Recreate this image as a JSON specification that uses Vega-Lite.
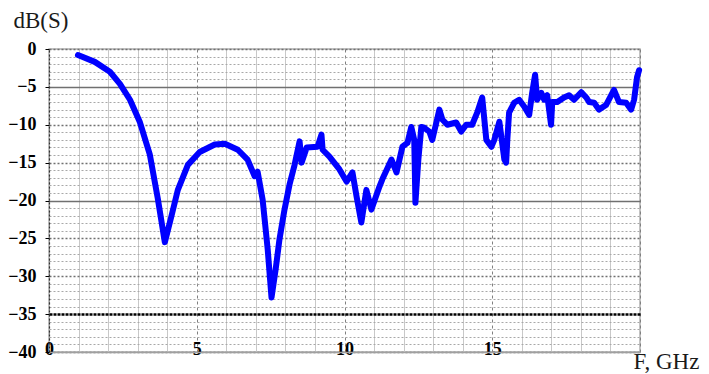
{
  "$schema": "https://vega.github.io/schema/vega-lite/v6.json",
  "width": 591,
  "height": 303,
  "autosize": "none",
  "padding": {"left": 49, "top": 49, "right": 69, "bottom": 22},
  "background": "white",
  "config": {
    "view": {"stroke": "#b0b0b0", "strokeWidth": 1.5}
  },
  "data": {
    "values": [
      {"f": 0.98, "db": -0.8}, {"f": 1.55, "db": -1.7}, {"f": 2.06, "db": -3.0},
      {"f": 2.40, "db": -4.6}, {"f": 2.74, "db": -6.7}, {"f": 3.07, "db": -9.6},
      {"f": 3.41, "db": -13.9}, {"f": 3.68, "db": -19.7}, {"f": 3.92, "db": -25.5},
      {"f": 4.16, "db": -21.8}, {"f": 4.36, "db": -18.6}, {"f": 4.70, "db": -15.3},
      {"f": 5.10, "db": -13.6}, {"f": 5.61, "db": -12.6}, {"f": 5.95, "db": -12.5},
      {"f": 6.39, "db": -13.3}, {"f": 6.72, "db": -14.6}, {"f": 6.96, "db": -16.8},
      {"f": 7.06, "db": -16.2}, {"f": 7.23, "db": -19.9}, {"f": 7.40, "db": -26.4},
      {"f": 7.53, "db": -32.8}, {"f": 7.67, "db": -29.1}, {"f": 7.80, "db": -25.1},
      {"f": 7.97, "db": -21.2}, {"f": 8.14, "db": -17.9}, {"f": 8.31, "db": -15.3},
      {"f": 8.48, "db": -12.2}, {"f": 8.55, "db": -15.0}, {"f": 8.72, "db": -13.0},
      {"f": 9.09, "db": -12.9}, {"f": 9.22, "db": -11.3}, {"f": 9.26, "db": -13.3},
      {"f": 9.49, "db": -14.2}, {"f": 9.83, "db": -15.9}, {"f": 10.07, "db": -17.5},
      {"f": 10.27, "db": -16.3}, {"f": 10.41, "db": -19.5}, {"f": 10.57, "db": -22.9},
      {"f": 10.74, "db": -18.6}, {"f": 10.91, "db": -21.2}, {"f": 11.18, "db": -18.2},
      {"f": 11.28, "db": -17.2}, {"f": 11.59, "db": -14.6}, {"f": 11.76, "db": -16.3},
      {"f": 11.96, "db": -12.9}, {"f": 12.13, "db": -12.4}, {"f": 12.26, "db": -10.3},
      {"f": 12.36, "db": -12.0}, {"f": 12.40, "db": -20.3}, {"f": 12.50, "db": -14.6},
      {"f": 12.60, "db": -10.3}, {"f": 12.70, "db": -10.4}, {"f": 12.87, "db": -10.9},
      {"f": 12.97, "db": -12.0}, {"f": 13.21, "db": -8.0}, {"f": 13.31, "db": -9.3},
      {"f": 13.48, "db": -10.0}, {"f": 13.78, "db": -9.7}, {"f": 13.95, "db": -10.9},
      {"f": 14.12, "db": -10.0}, {"f": 14.32, "db": -10.0}, {"f": 14.49, "db": -8.4},
      {"f": 14.66, "db": -6.4}, {"f": 14.80, "db": -12.0}, {"f": 14.97, "db": -12.9},
      {"f": 15.07, "db": -12.0}, {"f": 15.24, "db": -9.6}, {"f": 15.41, "db": -14.6},
      {"f": 15.47, "db": -15.0}, {"f": 15.51, "db": -12.0}, {"f": 15.57, "db": -8.4},
      {"f": 15.74, "db": -7.1}, {"f": 15.91, "db": -6.7}, {"f": 16.08, "db": -7.6},
      {"f": 16.25, "db": -8.7}, {"f": 16.35, "db": -5.8}, {"f": 16.45, "db": -3.4},
      {"f": 16.52, "db": -6.7}, {"f": 16.66, "db": -5.8}, {"f": 16.76, "db": -6.7},
      {"f": 16.86, "db": -6.1}, {"f": 16.99, "db": -10.0}, {"f": 17.03, "db": -7.0},
      {"f": 17.20, "db": -7.0}, {"f": 17.43, "db": -6.4}, {"f": 17.60, "db": -6.1},
      {"f": 17.77, "db": -6.7}, {"f": 18.01, "db": -5.7}, {"f": 18.18, "db": -6.4},
      {"f": 18.28, "db": -7.0}, {"f": 18.45, "db": -7.1}, {"f": 18.61, "db": -8.0},
      {"f": 18.85, "db": -7.4}, {"f": 19.12, "db": -5.4}, {"f": 19.29, "db": -7.0},
      {"f": 19.53, "db": -7.1}, {"f": 19.70, "db": -8.0}, {"f": 19.80, "db": -6.7},
      {"f": 19.90, "db": -3.7}, {"f": 19.97, "db": -2.8}
    ]
  },
  "mark": {"type": "line", "color": "#0000ff", "strokeWidth": 6, "strokeJoin": "round", "strokeCap": "round"},
  "encoding": {
    "x": {
      "field": "f",
      "type": "quantitative",
      "scale": {"domain": [0, 20], "nice": false, "zero": false},
      "axis": {
        "values": [0, 1, 2, 3, 4, 5, 6, 7, 8, 9, 10, 11, 12, 13, 14, 15, 16, 17, 18, 19, 20],
        "labelExpr": "datum.value % 5 === 0 && datum.value < 20 ? datum.label : ''",
        "labelFont": "Liberation Sans Narrow",
        "labelFontWeight": "bold",
        "labelFontSize": 18,
        "labelColor": "black",
        "labelPadding": -12,
        "labelFlush": false,
        "ticks": false,
        "domain": true,
        "domainColor": "#a0a0a0",
        "domainWidth": 1.5,
        "grid": true,
        "gridColor": {"condition": {"test": "datum.value % 5 === 0", "value": "#808080"}, "value": "#c8c8c8"},
        "gridDash": {"condition": {"test": "datum.value % 5 === 0", "value": [3, 3]}, "value": []},
        "gridWidth": 1,
        "title": "F, GHz",
        "titleFont": "Liberation Serif",
        "titleFontSize": 23,
        "titleFontWeight": "normal",
        "titleColor": "#1a1a1a",
        "titleAlign": "left",
        "titleAnchor": "start",
        "titleBaseline": "alphabetic",
        "titleX": 584,
        "titleY": 16
      }
    },
    "y": {
      "field": "db",
      "type": "quantitative",
      "scale": {"domain": [-40, 0], "nice": false, "zero": false},
      "axis": {
        "values": [-40, -39, -38, -37, -36, -35, -34, -33, -32, -31, -30, -29, -28, -27, -26, -25, -24, -23, -22, -21, -20, -19, -18, -17, -16, -15, -14, -13, -12, -11, -10, -9, -8, -7, -6, -5, -4, -3, -2, -1, 0],
        "labelExpr": "datum.value % 5 === 0 ? datum.label : ''",
        "labelFont": "Liberation Sans Narrow",
        "labelFontWeight": "bold",
        "labelFontSize": 18,
        "labelColor": "black",
        "labelPadding": 9,
        "labelFlush": false,
        "tickSize": 4,
        "tickColor": {"condition": {"test": "datum.value % 5 === 0", "value": "black"}, "value": "transparent"},
        "domain": true,
        "domainColor": "#333333",
        "domainDash": [2, 2],
        "domainWidth": 1.2,
        "grid": true,
        "gridColor": {"condition": [
          {"test": "datum.value === -35", "value": "#000000"},
          {"test": "datum.value % 5 === 0", "value": "#707070"}
        ], "value": "#a8a8a8"},
        "gridDash": {"condition": [
          {"test": "datum.value === -35", "value": [3, 1]},
          {"test": "datum.value === -5 || datum.value === -20", "value": []},
          {"test": "datum.value % 5 === 0", "value": [2, 2]}
        ], "value": [2, 2]},
        "gridWidth": {"condition": [
          {"test": "datum.value === -35", "value": 2.5},
          {"test": "datum.value % 5 === 0", "value": 1.5}
        ], "value": 1},
        "title": "dB(S)",
        "titleFont": "Liberation Serif",
        "titleFontSize": 23,
        "titleFontWeight": "normal",
        "titleColor": "#1a1a1a",
        "titleAngle": 0,
        "titleAlign": "left",
        "titleBaseline": "alphabetic",
        "titleX": -36,
        "titleY": -22
      }
    }
  }
}
